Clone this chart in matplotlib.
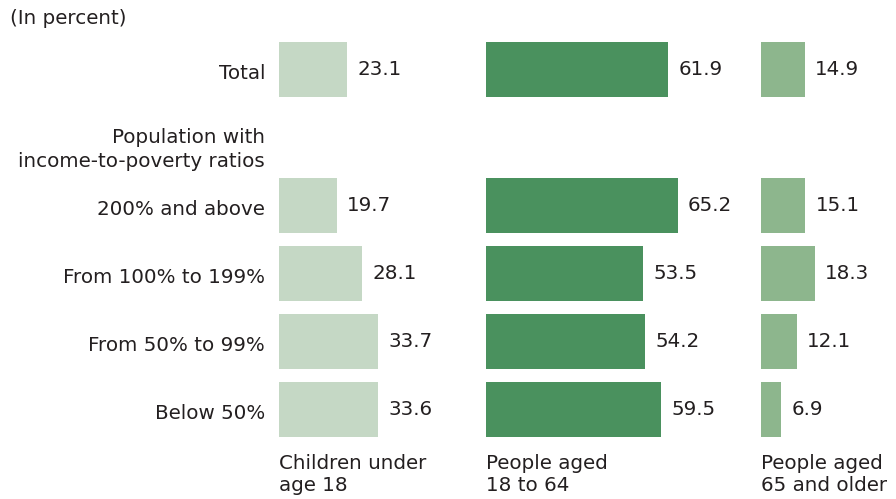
import matplotlib
matplotlib.use("Agg")
import matplotlib.pyplot as plt

# Data
# -----------------------------------------------------------
row_labels = ["Total", "", "200% and above", "From 100% to 199%",
              "From 50% to 99%", "Below 50%"]
children = [23.1, None, 19.7, 28.1, 33.7, 33.6]
adults = [61.9, None, 65.2, 53.5, 54.2, 59.5]
seniors = [14.9, None, 15.1, 18.3, 12.1, 6.9]
group_labels = ["Children under\nage 18", "People aged\n18 to 64",
                "People aged\n65 and older"]
heading = "Population with\nincome-to-poverty ratios"

colors = ["#c5d8c5", "#4a915e", "#8db68d"]
txt = "#231f20"
fs = 14.3

W, H = 896, 499
fig = plt.figure(figsize=(W / 100, H / 100), dpi=100)

scale = 2.94  # px per percent
top_px, bot_px = 35.5, 443.5
panels = [(279, 70), (486, 90), (761, 45)]
series = [children, adults, seniors]

axes = []
for (left_px, xmax), vals, col, lab in zip(panels, series, colors, group_labels):
    ax = fig.add_axes([left_px / W, 1 - bot_px / H, xmax * scale / W,
                       (bot_px - top_px) / H])
    ax.set_xlim(0, xmax)
    ax.set_ylim(5.5, -0.5)
    ax.axis("off")
    for i, v in enumerate(vals):
        if v is None:
            continue
        ax.barh(i, v, height=0.81, color=col)
        ax.annotate(f"{v:.1f}", xy=(v, i), xytext=(7.5, 0),
                    textcoords="offset points", ha="left", va="center",
                    fontsize=fs, color=txt)
    ax.annotate(lab, xy=(0, 5.5), xytext=(0, -7.5), textcoords="offset points",
                ha="left", va="top", fontsize=fs, color=txt,
                annotation_clip=False, linespacing=1.2)
    axes.append(ax)

ax1 = axes[0]
for i, name in enumerate(row_labels):
    if name:
        ax1.annotate(name, xy=(0, i), xytext=(-10, -3), textcoords="offset points",
                     ha="right", va="center", fontsize=fs, color=txt,
                     annotation_clip=False)
ax1.annotate(heading, xy=(0, 1), xytext=(-10, -8.5), textcoords="offset points",
             ha="right", va="center", fontsize=fs, color=txt,
             annotation_clip=False, linespacing=1.3)

fig.text(10 / W, 1 - 19 / H, "(In percent)", ha="left", va="center",
         fontsize=fs, color=txt)

fig.savefig("out.png", dpi=100)
